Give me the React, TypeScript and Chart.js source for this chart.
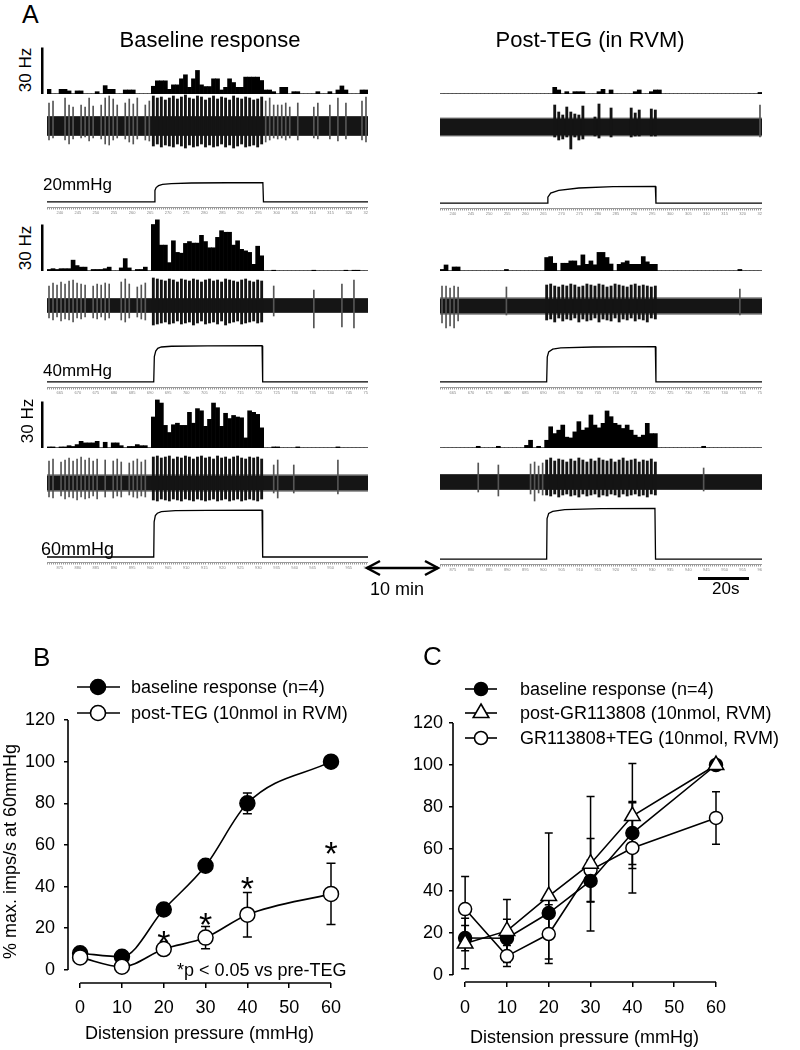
import React, { useEffect, useRef } from 'react';
import { Chart, registerables } from 'chart.js';

Chart.register(...registerables);
const FONT = "'Liberation Sans', Arial, Helvetica, sans-serif";
Chart.defaults.font.family = FONT;
Chart.defaults.color = '#000';

// ================= Panel A data (80 time bins per sweep) =================
const BIN_COUNT = 80;
const BINS = Array.from({ length: BIN_COUNT }, (_, i) => String(i));
const HZ_SCALE = 30;
// bins covered by the balloon distension (first, last)
const STIM_BINS = [26, 53];

// rate histograms (Hz)
const HIST_BASE_20 = [
  3, 0, 0, 3, 3, 2, 0, 2, 2, 0,
  0, 0, 1.5, 0, 5.4, 3, 3, 0, 0, 2.6,
  2.6, 2.6, 0, 0, 0, 0, 5, 8.5, 8.5, 8.5,
  3, 5.9, 5.9, 9.8, 12.4, 4.3, 9.8, 15.2, 5.9, 4.8,
  4.8, 9.8, 9.8, 2.6, 4.3, 9.8, 7.4, 4.3, 4.3, 10.9,
  10.9, 10.9, 10.9, 8.7, 2.6, 2.6, 1.5, 0, 4.3, 4.3,
  0, 1.5, 1.5, 0, 0, 0, 0, 1.5, 0, 0,
  1.5, 0, 2.6, 5.2, 2.6, 0, 0, 0, 2.6, 2.6,
];
const HIST_BASE_40 = [
  1, 1.5, 1, 1.5, 1.5, 1.5, 7, 3.5, 2.5, 2.5,
  0, 1, 1, 1, 1.5, 2.5, 0, 0, 2, 8,
  2, 0, 1, 1, 2.5, 0, 30, 33, 16.7, 16.7,
  5.4, 19.5, 12, 11.5, 17.8, 19, 18, 18, 23, 19,
  15, 15, 21.7, 26, 25, 25, 16.7, 19.5, 14, 13,
  12, 4.3, 16, 9.8, 0, 0, 0.5, 0, 0, 0,
  0, 0, 0, 0, 0, 0, 0.5, 0, 0, 0,
  0, 0, 0, 0, 0.5, 0, 0.5, 0.5, 0, 0,
];
const HIST_BASE_60 = [
  0.7, 0.7, 0, 0.7, 0.7, 1.5, 1, 2.2, 4.3, 3.3,
  3.3, 3.3, 4.3, 0, 3.7, 0, 3.3, 3.3, 1.5, 0,
  1, 1, 2.2, 1.5, 1.5, 0, 20, 31, 29, 14.6,
  10, 15, 16, 14.6, 14.6, 23, 16, 25.4, 24, 14,
  18.5, 29, 26, 14, 22.4, 19, 21, 20, 19.5, 6.5,
  24, 23, 21.7, 13, 0, 0, 0.7, 0.7, 0, 0,
  0, 0, 0.7, 0, 0, 0, 0, 0, 0, 0,
  0, 0, 0.7, 0, 0, 0, 0, 0, 0, 0,
];
const HIST_TEG_20 = [
  0, 0, 0, 0, 0, 0, 0, 0, 0, 0,
  0, 0, 0, 0, 0, 0, 0, 0, 0, 0,
  0, 0, 0, 0, 0, 0, 0, 0, 4.3, 2.6,
  0, 1.5, 0, 1.5, 1.5, 1.5, 0, 0, 0, 1.5,
  3, 0, 2.6, 0, 0, 0, 0, 0, 1.5, 2.6,
  0, 0, 1.5, 2.6, 2.6, 0, 0, 0, 0, 0,
  0, 0, 0, 0, 0, 0, 0, 0, 0, 0,
  0, 0, 0, 0, 0, 0, 0, 0, 0, 1,
];
const HIST_TEG_40 = [
  1, 3.9, 0, 2.6, 2.6, 0, 0, 0, 0, 0,
  0, 0, 0, 0, 0, 0, 1, 0, 0, 0,
  0, 0, 0, 0, 0, 0, 8.7, 9.3, 5, 0,
  5, 5, 6.5, 6.5, 3.5, 10.4, 4.3, 6.5, 4, 12,
  12, 8.7, 4.5, 0, 4.3, 5.4, 6.5, 4.3, 4.3, 4.3,
  9.3, 5.9, 4.3, 4.3, 0, 0, 0, 0, 0, 0,
  0, 0, 0, 0, 0, 0, 0, 0, 0, 0,
  0, 0, 0, 0, 1, 0, 0, 0, 0, 0,
];
const HIST_TEG_60 = [
  0, 0, 0, 0, 0, 0, 0, 0, 0, 1.1,
  0, 0, 0, 0, 1.1, 0, 0, 0, 0, 0,
  0, 1.7, 5, 0, 1.1, 0, 5, 13.7, 9.3, 11.5,
  14.8, 7, 6.5, 10.4, 17, 11.5, 13, 21.3, 14.8, 13,
  15.9, 23.9, 20.2, 15.9, 14.8, 12.6, 14.8, 11.5, 8.3, 7,
  8.3, 15.9, 9.3, 9.3, 0, 0, 0, 0, 0, 0,
  0, 0, 0, 0, 0, 1.1, 0, 0, 0, 0,
  0, 0, 0, 0, 0, 0, 0, 0, 0, 0,
];

// raw extracellular traces: largest upward / downward spike per bin (arb. units), noise band
const SPK_UP_BASE_20 = [
  23, 25, 0, 0, 28, 21, 19, 0, 21, 19,
  28, 20, 0, 21, 28, 30, 27, 21, 0, 23,
  27, 22, 28, 0, 21, 25, 30, 28, 29, 26,
  28, 30, 27, 29, 31, 28, 27, 30, 29, 26,
  28, 30, 27, 29, 28, 26, 30, 28, 27, 29,
  28, 26, 27, 29, 25, 28, 21, 21, 21, 23,
  19, 0, 23, 0, 0, 0, 19, 23, 0, 0,
  21, 0, 28, 0, 23, 0, 0, 0, 25, 29,
];
const SPK_DN_BASE_20 = [
  14, 12, 0, 0, 14, 18, 13, 0, 12, 11,
  15, 12, 0, 13, 18, 19, 14, 12, 0, 13,
  16, 18, 13, 0, 14, 15, 20, 18, 21, 19,
  20, 21, 18, 20, 22, 19, 21, 20, 18, 21,
  19, 21, 20, 18, 21, 19, 22, 20, 18, 21,
  20, 19, 21, 18, 16, 14, 12, 13, 12, 14,
  12, 0, 14, 0, 0, 0, 12, 13, 0, 0,
  13, 0, 15, 0, 13, 0, 0, 0, 14, 16,
];
const SPK_UP_BASE_40 = [
  20, 23, 21, 24, 22, 25, 26, 23, 22, 21,
  0, 20, 22, 21, 23, 22, 0, 0, 24, 27,
  22, 0, 19, 21, 23, 0, 28, 27, 26, 25,
  27, 26, 24, 27, 26, 25, 27, 26, 24, 26,
  27, 25, 26, 24, 27, 26, 25, 24, 26, 27,
  25, 24, 26, 25, 0, 0, 20, 0, 0, 0,
  0, 0, 0, 0, 0, 0, 16, 0, 0, 0,
  0, 0, 0, 22, 0, 0, 26, 0, 0, 0,
];
const SPK_DN_BASE_40 = [
  12, 14, 11, 15, 13, 14, 16, 12, 13, 11,
  0, 12, 13, 11, 14, 12, 0, 0, 14, 16,
  12, 0, 11, 13, 14, 0, 19, 18, 17, 16,
  18, 17, 15, 18, 17, 16, 19, 17, 15, 18,
  17, 16, 18, 15, 19, 17, 16, 15, 18, 17,
  16, 15, 17, 16, 0, 0, 10, 0, 0, 0,
  0, 0, 0, 0, 0, 0, 22, 0, 0, 0,
  0, 0, 0, 21, 0, 0, 22, 0, 0, 0,
];
const SPK_UP_BASE_60 = [
  22, 24, 0, 21, 23, 25, 22, 24, 26, 23,
  25, 22, 24, 0, 23, 0, 22, 24, 21, 0,
  20, 22, 24, 21, 23, 0, 26, 27, 25, 26,
  27, 24, 26, 25, 27, 26, 24, 26, 27, 25,
  26, 24, 27, 25, 26, 24, 26, 27, 25, 24,
  26, 25, 26, 24, 0, 0, 18, 23, 0, 0,
  0, 18, 0, 0, 0, 0, 0, 0, 0, 0,
  0, 0, 23, 0, 0, 0, 0, 0, 0, 0,
];
const SPK_DN_BASE_60 = [
  14, 15, 0, 13, 16, 14, 15, 17, 14, 16,
  15, 13, 16, 0, 14, 0, 15, 13, 14, 0,
  12, 14, 15, 13, 14, 0, 17, 18, 16, 17,
  18, 16, 17, 18, 16, 17, 18, 16, 17, 18,
  17, 16, 18, 17, 16, 18, 17, 16, 18, 17,
  16, 17, 18, 16, 0, 0, 10, 15, 0, 0,
  0, 10, 0, 0, 0, 0, 0, 0, 0, 0,
  0, 0, 11, 0, 0, 0, 0, 0, 0, 0,
];
const SPK_UP_TEG_20 = [
  0, 0, 0, 0, 0, 0, 0, 0, 0, 0,
  0, 0, 0, 0, 0, 0, 0, 0, 0, 0,
  0, 0, 0, 0, 0, 0, 0, 0, 22, 15,
  12, 20, 15, 13, 12, 21, 0, 0, 10, 23,
  0, 0, 19, 0, 0, 0, 0, 19, 14, 17,
  0, 0, 18, 17, 0, 0, 0, 0, 0, 0,
  0, 0, 0, 0, 0, 0, 0, 0, 0, 0,
  0, 0, 0, 0, 0, 0, 0, 0, 0, 22,
];
const SPK_DN_TEG_20 = [
  0, 0, 0, 0, 0, 0, 0, 0, 0, 0,
  0, 0, 0, 0, 0, 0, 0, 0, 0, 0,
  0, 0, 0, 0, 0, 0, 0, 0, 10, 13,
  12, 10, 22, 10, 13, 12, 0, 0, 9, 11,
  0, 0, 10, 0, 0, 0, 0, 10, 9, 9,
  0, 0, 9, 9, 0, 0, 0, 0, 0, 0,
  0, 0, 0, 0, 0, 0, 0, 0, 0, 0,
  0, 0, 0, 0, 0, 0, 0, 0, 0, 10,
];
const SPK_UP_TEG_40 = [
  20, 20, 18, 20, 19, 0, 0, 0, 0, 0,
  0, 0, 0, 0, 0, 0, 19, 0, 0, 0,
  0, 0, 0, 0, 0, 0, 21, 22, 20, 19,
  21, 20, 22, 21, 19, 20, 22, 21, 20, 22,
  21, 19, 20, 22, 21, 20, 19, 21, 22, 20,
  21, 20, 19, 20, 0, 0, 0, 0, 0, 0,
  0, 0, 0, 0, 0, 0, 0, 0, 0, 0,
  0, 0, 0, 0, 17, 0, 0, 0, 0, 0,
];
const SPK_DN_TEG_40 = [
  17, 22, 20, 22, 15, 0, 0, 0, 0, 0,
  0, 0, 0, 0, 0, 0, 9, 0, 0, 0,
  0, 0, 0, 0, 0, 0, 14, 13, 16, 12,
  15, 13, 14, 12, 16, 13, 15, 14, 12, 16,
  13, 14, 15, 12, 16, 13, 14, 12, 15, 13,
  14, 16, 12, 13, 0, 0, 0, 0, 0, 0,
  0, 0, 0, 0, 0, 0, 0, 0, 0, 0,
  0, 0, 0, 0, 9, 0, 0, 0, 0, 0,
];
const SPK_UP_TEG_60 = [
  0, 0, 0, 0, 0, 0, 0, 0, 0, 19,
  0, 0, 0, 0, 17, 0, 0, 0, 0, 0,
  0, 0, 18, 20, 16, 19, 22, 24, 21, 23,
  22, 20, 23, 21, 24, 22, 20, 23, 21, 24,
  22, 21, 23, 20, 22, 24, 21, 22, 23, 20,
  22, 21, 23, 20, 0, 0, 0, 0, 0, 0,
  0, 0, 0, 0, 0, 14, 0, 0, 0, 0,
  0, 0, 0, 0, 0, 0, 0, 0, 0, 0,
];
const SPK_DN_TEG_60 = [
  0, 0, 0, 0, 0, 0, 0, 0, 0, 10,
  0, 0, 0, 0, 14, 0, 0, 0, 0, 0,
  0, 0, 12, 19, 11, 13, 13, 14, 12, 15,
  13, 12, 14, 13, 15, 12, 14, 13, 12, 15,
  13, 14, 12, 13, 15, 12, 14, 13, 12, 14,
  13, 15, 12, 13, 0, 0, 0, 0, 0, 0,
  0, 0, 0, 0, 0, 9, 0, 0, 0, 0,
  0, 0, 0, 0, 0, 0, 0, 0, 0, 0,
];
// noise band [upper, lower]
const CORE_BASE_20 = [9, 9];
const CORE_BASE_40 = [7, 6];
const CORE_BASE_60 = [7.5, 7.5];
const CORE_TEG_20 = [8.3, 8.3];
const CORE_TEG_40 = [7.5, 7.5];
const CORE_TEG_60 = [7, 7];

// balloon pressure traces [bin, mmHg]
type Pt = [number, number];
const PRESS_BASE_20: Pt[] = [[0, 0], [26.75, 0], [26.9, 12], [27.2, 15], [27.8, 17], [28.8, 18.3], [31, 19.2], [36, 19.8], [45, 20.1], [53.8, 20.2], [53.95, 0], [80, 0]];
const PRESS_BASE_40: Pt[] = [[0, 0], [26.6, 0], [26.75, 28], [27.1, 34], [27.6, 37], [28.5, 38.5], [31, 39.3], [40, 39.8], [53.6, 40], [53.75, 0], [80, 0]];
const PRESS_BASE_60: Pt[] = [[0, 0], [26.6, 0], [26.7, 45], [27, 53], [27.5, 56], [28.5, 58], [32, 59.3], [40, 59.8], [53.6, 60], [53.75, 0], [80, 0]];
const PRESS_TEG_20: Pt[] = [[0, 0], [26.65, 0], [26.8, 7], [27.5, 12], [29.5, 15.3], [34.5, 18], [43, 19.6], [53.5, 20], [53.65, 0], [80, 0]];
const PRESS_TEG_40: Pt[] = [[0, 0], [26.5, 0], [26.65, 28], [27, 34], [28, 37], [30, 38.5], [38, 39.5], [53.5, 40], [53.65, 0], [80, 0]];
const PRESS_TEG_60: Pt[] = [[0, 0], [26.5, 0], [26.6, 48], [27, 54], [28, 56.5], [31, 58.5], [40, 59.6], [53.4, 60], [53.55, 0], [80, 0]];

// time rulers (s)
const RULER_20 = ['240', '245', '250', '255', '260', '265', '270', '275', '280', '285', '290', '295', '300', '305', '310', '315', '320', '325'];
const RULER_40 = ['665', '670', '675', '680', '685', '690', '695', '700', '705', '710', '715', '720', '725', '730', '735', '740', '745', '750'];
const RULER_60 = ['875', '880', '885', '890', '895', '900', '905', '910', '915', '920', '925', '930', '935', '940', '945', '950', '955', '960'];

// ================= Panel B / C data =================
const PRESSURES = [0, 10, 20, 30, 40, 60];
const X_TICKS = [0, 10, 20, 30, 40, 50, 60];
const Y_TICKS = [0, 20, 40, 60, 80, 100, 120];

const B_BASELINE = [8, 6.3, 29, 50, 80, 100];
const B_BASELINE_ERR = [1, 1, 1, 1, 5, 0];
const B_TEG = [6, 1.5, 10, 15.5, 26.5, 36.5];
const B_TEG_ERR = [1, 1, 1.5, 5.3, 10.7, 14.7];
const B_STAR_X = [20, 30, 40, 60];
const B_STAR_Y = [17, 25.5, 43, 59.5];

const C_BASELINE = [17.6, 17.5, 29.5, 44.8, 67.6, 100];
const C_BASELINE_ERR = [6, 9, 8, 10, 15, 0];
const C_GR = [15, 21, 37.6, 53, 75.7, 100];
const C_GR_ERR = [12, 15, 30, 32, 25, 0];
const C_GR_TEG = [31.4, 9, 19.5, 50, 60.5, 74.8];
const C_GR_TEG_ERR = [15.5, 5, 14, 15, 21.5, 12.5];

// ================= plugins =================
const histBaseline = {
  id: 'histBaseline',
  beforeDatasetsDraw(chart: any) {
    const { ctx, chartArea: a, scales } = chart;
    const y0 = Math.round(scales.y.getPixelForValue(0)) - 0.5;
    ctx.save();
    ctx.strokeStyle = '#8a8a8a';
    ctx.lineWidth = 1;
    ctx.beginPath();
    ctx.moveTo(a.left, y0);
    ctx.lineTo(a.right, y0);
    ctx.stroke();
    ctx.restore();
  },
};
const hzScaleBar = {
  id: 'hzScaleBar',
  afterDraw(chart: any) {
    const { ctx, chartArea: a, scales } = chart;
    const top = scales.y.getPixelForValue(HZ_SCALE);
    const bot = scales.y.getPixelForValue(0);
    ctx.save();
    ctx.fillStyle = '#000';
    ctx.fillRect(a.left - 6, top, 2.5, bot - top);
    ctx.restore();
  },
};
const makeCoreBand = (core: number[]) => ({
  id: 'coreBand',
  beforeDatasetsDraw(chart: any) {
    const { ctx, chartArea: a, scales } = chart;
    const t = scales.y.getPixelForValue(core[0]);
    const b = scales.y.getPixelForValue(-core[1]);
    ctx.save();
    ctx.fillStyle = '#151515';
    ctx.fillRect(a.left, t, a.right - a.left, b - t);
    ctx.fillStyle = '#3a3a3a';
    ctx.fillRect(a.left, t - 1, a.right - a.left, 1);
    ctx.fillRect(a.left, b, a.right - a.left, 1);
    ctx.restore();
  },
});
const RULER_FIRST = 3.2;
const RULER_STEP = 4.5;
const makeRuler = (labels: string[]) => ({
  id: 'ruler',
  afterDraw(chart: any) {
    const { ctx, chartArea: a, scales } = chart;
    const x = scales.x;
    const y0 = a.bottom + 0.5;
    ctx.save();
    ctx.strokeStyle = '#9a9a9a';
    ctx.lineWidth = 1;
    ctx.beginPath();
    ctx.moveTo(a.left, y0);
    ctx.lineTo(a.right, y0);
    for (let t = 0; t <= BIN_COUNT; t += 0.5) {
      const px = Math.round(x.getPixelForValue(t)) + 0.5;
      ctx.moveTo(px, y0);
      ctx.lineTo(px, y0 + 2);
    }
    ctx.stroke();
    ctx.fillStyle = '#888';
    ctx.font = `4px ${FONT}`;
    ctx.textAlign = 'center';
    ctx.textBaseline = 'top';
    labels.forEach((l, j) => {
      ctx.fillText(l, x.getPixelForValue(RULER_FIRST + j * RULER_STEP), y0 + 3);
    });
    ctx.restore();
  },
});

const errorBars = (cap: number) => ({
  id: 'errorBars',
  beforeDatasetsDraw(chart: any) {
    const { ctx, scales } = chart;
    ctx.save();
    ctx.strokeStyle = '#000';
    ctx.lineWidth = 1.5;
    chart.data.datasets.forEach((ds: any) => {
      const err = ds.errors;
      if (!err) return;
      ds.data.forEach((p: any, i: number) => {
        const e = err[i];
        if (!e) return;
        const px = scales.x.getPixelForValue(p.x);
        const top = scales.y.getPixelForValue(p.y + e);
        const bot = scales.y.getPixelForValue(p.y - e);
        ctx.beginPath();
        ctx.moveTo(px, top);
        ctx.lineTo(px, bot);
        ctx.moveTo(px - cap, top);
        ctx.lineTo(px + cap, top);
        ctx.moveTo(px - cap, bot);
        ctx.lineTo(px + cap, bot);
        ctx.stroke();
      });
    });
    ctx.restore();
  },
});
const detachedAxes = {
  id: 'detachedAxes',
  afterDraw(chart: any) {
    const { ctx, chartArea: a, scales } = chart;
    ctx.save();
    ctx.strokeStyle = '#000';
    ctx.lineWidth = 1.6;
    ctx.beginPath();
    ctx.moveTo(a.left, scales.y.getPixelForValue(Y_TICKS[0]));
    ctx.lineTo(a.left, scales.y.getPixelForValue(Y_TICKS[Y_TICKS.length - 1]));
    ctx.moveTo(scales.x.getPixelForValue(X_TICKS[0]), a.bottom);
    ctx.lineTo(scales.x.getPixelForValue(X_TICKS[X_TICKS.length - 1]), a.bottom);
    ctx.stroke();
    ctx.restore();
  },
};
type LegendItem = { text: string; style: 'circle' | 'triangle'; fill: string; y: number };
function drawMarker(ctx: any, style: string, fill: string, x: number, y: number, r: number) {
  ctx.beginPath();
  if (style === 'triangle') {
    ctx.moveTo(x, y - r);
    ctx.lineTo(x + r * Math.sin(Math.PI * 2 / 3), y - r * Math.cos(Math.PI * 2 / 3));
    ctx.lineTo(x - r * Math.sin(Math.PI * 2 / 3), y - r * Math.cos(Math.PI * 2 / 3));
    ctx.closePath();
  } else {
    ctx.arc(x, y, r, 0, Math.PI * 2);
  }
  ctx.fillStyle = fill;
  ctx.fill();
  ctx.stroke();
}
const makeLegend = (items: LegendItem[], x1: number, x2: number, xm: number, xt: number, rc: number, rt: number, size: number) => ({
  id: 'customLegend',
  afterDraw(chart: any) {
    const { ctx } = chart;
    ctx.save();
    ctx.strokeStyle = '#000';
    ctx.lineWidth = 1.6;
    items.forEach((it) => {
      ctx.beginPath();
      ctx.moveTo(x1, it.y);
      ctx.lineTo(x2, it.y);
      ctx.stroke();
      drawMarker(ctx, it.style, it.fill, xm, it.y, it.style === 'triangle' ? rt : rc);
      ctx.fillStyle = '#000';
      ctx.font = `${size}px ${FONT}`;
      ctx.textAlign = 'left';
      ctx.textBaseline = 'middle';
      ctx.fillText(it.text, xt, it.y + 1);
    });
    ctx.restore();
  },
});
const starsPlugin = {
  id: 'stars',
  afterDatasetsDraw(chart: any) {
    const { ctx, scales } = chart;
    ctx.save();
    ctx.fillStyle = '#000';
    ctx.font = `34px ${FONT}`;
    ctx.textAlign = 'center';
    ctx.textBaseline = 'alphabetic';
    B_STAR_X.forEach((x, i) => {
      ctx.fillText('*', scales.x.getPixelForValue(x), scales.y.getPixelForValue(B_STAR_Y[i]) + 0.57 * 34);
    });
    ctx.restore();
  },
};

// ================= config builders =================
const baseOpts = { animation: false, responsive: false, maintainAspectRatio: false, events: [] as any[] };
const noLegend = { legend: { display: false }, tooltip: { enabled: false } };

function histConfig(values: number[], maxHz: number, padLeft: number, scaleBar: boolean) {
  return {
    type: 'bar',
    data: { labels: BINS, datasets: [{ data: values, backgroundColor: '#000', borderWidth: 0, barPercentage: 1, categoryPercentage: 1 }] },
    options: {
      ...baseOpts,
      layout: { padding: { left: padLeft, right: 0, top: 0, bottom: 0 } },
      scales: { x: { display: false }, y: { display: false, min: 0, max: maxHz } },
      plugins: noLegend,
    },
    plugins: scaleBar ? [histBaseline, hzScaleBar] : [histBaseline],
  };
}
function traceConfig(up: number[], dn: number[], core: number[]) {
  const inStim = (i: number) => i >= STIM_BINS[0] && i <= STIM_BINS[1];
  const burst = up.map((u, i) => (u > 0 && inStim(i) ? [-dn[i], u] : null));
  const sparse = up.map((u, i) => (u > 0 && !inStim(i) ? [-dn[i], u] : null));
  return {
    type: 'bar',
    data: {
      labels: BINS,
      datasets: [
        { data: burst, backgroundColor: '#141414', borderWidth: 0, barThickness: 2.2, grouped: false },
        { data: sparse, backgroundColor: '#555', borderWidth: 0, barThickness: 1, grouped: false },
      ],
    },
    options: {
      ...baseOpts,
      layout: { padding: 0 },
      scales: { x: { display: false }, y: { display: false, min: -25, max: 32 } },
      plugins: noLegend,
    },
    plugins: [makeCoreBand(core)],
  };
}
function pressureConfig(points: Pt[], yMin: number, yMax: number, ruler: string[]) {
  return {
    type: 'line',
    data: { datasets: [{ data: points.map(([x, y]) => ({ x, y })), borderColor: '#000', borderWidth: 1.3, pointRadius: 0, tension: 0 }] },
    options: {
      ...baseOpts,
      layout: { padding: { left: 0, right: 0, top: 0, bottom: 8 } },
      scales: { x: { type: 'linear', display: false, min: 0, max: BIN_COUNT }, y: { display: false, min: yMin, max: yMax } },
      plugins: noLegend,
    },
    plugins: [makeRuler(ruler)],
  };
}

function xyConfig(opts: any) {
  const { datasets, yMin, xAxisH, yAxisW, padTop, padRight, yTitle, tickPadY, tickPadX, titlePadB, plugins } = opts;
  return {
    type: 'line',
    data: { datasets },
    options: {
      ...baseOpts,
      layout: { padding: { top: padTop, right: padRight, left: 0, bottom: 0 } },
      scales: {
        x: {
          type: 'linear', min: -2.9, max: 60,
          afterBuildTicks: (s: any) => { s.ticks = X_TICKS.map((v) => ({ value: v })); },
          afterFit: (s: any) => { s.height = xAxisH; },
          grid: { display: true, drawOnChartArea: false, tickLength: 5, color: '#000', lineWidth: 1.5 },
          border: { display: false },
          ticks: { font: { size: 18 }, color: '#000', padding: tickPadX, maxRotation: 0, autoSkip: false },
          title: { display: true, text: 'Distension pressure (mmHg)', font: { size: 18 }, color: '#000', padding: { top: 0, bottom: titlePadB } },
        },
        y: {
          type: 'linear', min: yMin, max: 120,
          afterBuildTicks: (s: any) => { s.ticks = Y_TICKS.map((v) => ({ value: v })); },
          afterFit: (s: any) => { s.width = yAxisW; },
          grid: { display: true, drawOnChartArea: false, tickLength: 4, color: '#000', lineWidth: 1.5 },
          border: { display: false },
          ticks: { font: { size: 18 }, color: '#000', padding: tickPadY, autoSkip: false },
          title: yTitle
            ? { display: true, text: yTitle, font: { size: 18 }, color: '#000', padding: { top: 0, bottom: 0 } }
            : { display: false },
        },
      },
      plugins: noLegend,
    },
    plugins: [errorBars(opts.cap), detachedAxes, ...plugins],
  };
}

// ================= components =================
function ChartCanvas({ left, top, width, height, make }: { left: number; top: number; width: number; height: number; make: () => any }) {
  const ref = useRef<HTMLCanvasElement>(null);
  useEffect(() => {
    const chart = new Chart(ref.current as HTMLCanvasElement, make());
    return () => chart.destroy();
  }, []);
  return <canvas ref={ref} width={width} height={height} style={{ position: 'absolute', left, top, width, height }} />;
}

function Label({ children, left, top, size, center, style }: any) {
  return (
    <div
      style={{
        position: 'absolute', left, top, fontSize: size, lineHeight: 1, fontFamily: FONT, color: '#000', whiteSpace: 'nowrap',
        transform: center ? 'translateX(-50%)' : undefined, ...style,
      }}
    >
      {children}
    </div>
  );
}
function VLabel({ children, cx, cy, size }: any) {
  return (
    <div
      style={{
        position: 'absolute', left: cx, top: cy, fontSize: size, lineHeight: 1, fontFamily: FONT, color: '#000', whiteSpace: 'nowrap',
        transform: 'translate(-50%, -50%) rotate(-90deg)',
      }}
    >
      {children}
    </div>
  );
}

const HIST_H = 56;
const HZ_PX = 1.55;
const COL_L = { x: 47, w: 321 };
const COL_R = { x: 440, w: 322 };

const SWEEPS = [
  { col: COL_L, bar: true, hist: HIST_BASE_20, up: SPK_UP_BASE_20, dn: SPK_DN_BASE_20, core: CORE_BASE_20, press: PRESS_BASE_20, pMax: 24, histBase: 94, traceC: 126, pressBase: 202, pxPer: 0.95, ruler: RULER_20 },
  { col: COL_L, bar: true, hist: HIST_BASE_40, up: SPK_UP_BASE_40, dn: SPK_DN_BASE_40, core: CORE_BASE_40, press: PRESS_BASE_40, pMax: 44, histBase: 271, traceC: 306, pressBase: 382, pxPer: 0.9, ruler: RULER_40 },
  { col: COL_L, bar: true, hist: HIST_BASE_60, up: SPK_UP_BASE_60, dn: SPK_DN_BASE_60, core: CORE_BASE_60, press: PRESS_BASE_60, pMax: 64, histBase: 448, traceC: 482.5, pressBase: 557, pxPer: 0.783, ruler: RULER_60 },
  { col: COL_R, bar: false, hist: HIST_TEG_20, up: SPK_UP_TEG_20, dn: SPK_DN_TEG_20, core: CORE_TEG_20, press: PRESS_TEG_20, pMax: 24, histBase: 94, traceC: 126.7, pressBase: 203, pxPer: 0.85, ruler: RULER_20 },
  { col: COL_R, bar: false, hist: HIST_TEG_40, up: SPK_UP_TEG_40, dn: SPK_DN_TEG_40, core: CORE_TEG_40, press: PRESS_TEG_40, pMax: 44, histBase: 271, traceC: 305.8, pressBase: 381.7, pxPer: 0.875, ruler: RULER_40 },
  { col: COL_R, bar: false, hist: HIST_TEG_60, up: SPK_UP_TEG_60, dn: SPK_DN_TEG_60, core: CORE_TEG_60, press: PRESS_TEG_60, pMax: 64, histBase: 448, traceC: 482.3, pressBase: 559, pxPer: 0.85, ruler: RULER_60 },
];

export default function App() {
  const charts: any[] = [];
  SWEEPS.forEach((s, i) => {
    const padL = s.bar ? 9 : 0;
    charts.push(
      <ChartCanvas key={`h${i}`} left={s.col.x - padL} top={s.histBase - HIST_H} width={s.col.w + padL} height={HIST_H}
        make={() => histConfig(s.hist, HIST_H / HZ_PX, padL, s.bar)} />,
    );
    charts.push(
      <ChartCanvas key={`t${i}`} left={s.col.x} top={Math.round(s.traceC - 32)} width={s.col.w} height={57}
        make={() => traceConfig(s.up, s.dn, s.core)} />,
    );
    const areaH = s.pMax * s.pxPer + 5;
    charts.push(
      <ChartCanvas key={`p${i}`} left={s.col.x} top={Math.round(s.pressBase - s.pMax * s.pxPer)} width={s.col.w} height={Math.round(areaH + 8)}
        make={() => pressureConfig(s.press, -5 / s.pxPer, s.pMax, s.ruler)} />,
    );
  });

  const bDatasets = [
    { label: 'post-TEG (10nmol in RVM)', data: PRESSURES.map((x, i) => ({ x, y: B_TEG[i] })), errors: B_TEG_ERR, order: 0,
      borderColor: '#000', backgroundColor: '#fff', pointBackgroundColor: '#fff', pointBorderColor: '#000', pointRadius: 7.5, pointBorderWidth: 1.5,
      borderWidth: 1.6, cubicInterpolationMode: 'monotone', clip: false },
    { label: 'baseline response (n=4)', data: PRESSURES.map((x, i) => ({ x, y: B_BASELINE[i] })), errors: B_BASELINE_ERR, order: 1,
      borderColor: '#000', backgroundColor: '#000', pointBackgroundColor: '#000', pointBorderColor: '#000', pointRadius: 7.5, pointBorderWidth: 1.5,
      borderWidth: 1.6, cubicInterpolationMode: 'monotone', clip: false },
  ];
  const cDatasets = [
    { label: 'post-GR113808 (10nmol, RVM)', data: PRESSURES.map((x, i) => ({ x, y: C_GR[i] })), errors: C_GR_ERR, order: 0,
      borderColor: '#000', pointStyle: 'triangle', pointBackgroundColor: '#fff', pointBorderColor: '#000', pointRadius: 9, pointBorderWidth: 1.5,
      borderWidth: 1.6, tension: 0, clip: false },
    { label: 'baseline response (n=4)', data: PRESSURES.map((x, i) => ({ x, y: C_BASELINE[i] })), errors: C_BASELINE_ERR, order: 1,
      borderColor: '#000', pointBackgroundColor: '#000', pointBorderColor: '#000', pointRadius: 6.5, pointBorderWidth: 1.5,
      borderWidth: 1.6, tension: 0, clip: false },
    { label: 'GR113808+TEG (10nmol, RVM)', data: PRESSURES.map((x, i) => ({ x, y: C_GR_TEG[i] })), errors: C_GR_TEG_ERR, order: 2,
      borderColor: '#000', pointBackgroundColor: '#fff', pointBorderColor: '#000', pointRadius: 6.5, pointBorderWidth: 1.5,
      borderWidth: 1.6, tension: 0, clip: false },
  ];

  const bLegend = makeLegend(
    [
      { text: 'baseline response (n=4)', style: 'circle', fill: '#000', y: 57 },
      { text: 'post-TEG (10nmol in RVM)', style: 'circle', fill: '#fff', y: 83 },
    ],
    77, 120, 98, 131, 7.5, 9, 18,
  );
  const cLegend = makeLegend(
    [
      { text: 'baseline response (n=4)', style: 'circle', fill: '#000', y: 59 },
      { text: 'post-GR113808 (10nmol, RVM)', style: 'triangle', fill: '#fff', y: 83 },
      { text: 'GR113808+TEG (10nmol, RVM)', style: 'circle', fill: '#fff', y: 108 },
    ],
    65, 97, 81, 120, 6.5, 9, 18,
  );

  return (
    <div style={{ position: 'absolute', left: 0, top: 0, width: 800, height: 1050, background: '#fff', overflow: 'hidden' }}>
      {charts}
      <ChartCanvas left={0} top={630} width={400} height={420}
        make={() => xyConfig({
          datasets: bDatasets, yMin: -6.3, xAxisH: 67, yAxisW: 68, padTop: 90, padRight: 69, yTitle: '% max. imps/s at 60mmHg',
          tickPadY: 9, tickPadX: 9, titlePadB: 5, cap: 4.5, plugins: [bLegend, starsPlugin],
        })} />
      <ChartCanvas left={400} top={630} width={400} height={420}
        make={() => xyConfig({
          datasets: cDatasets, yMin: -3.33, xAxisH: 68, yAxisW: 53, padTop: 93, padRight: 84, yTitle: null,
          tickPadY: 6, tickPadX: 10, titlePadB: 1, cap: 4, plugins: [cLegend],
        })} />

      <Label left={22} top={2} size={25}>A</Label>
      <Label left={210} top={29} size={22} center>Baseline response</Label>
      <Label left={590} top={29} size={22} center>Post-TEG (in RVM)</Label>
      <VLabel cx={25} cy={70} size={17}>30 Hz</VLabel>
      <VLabel cx={25} cy={248} size={17}>30 Hz</VLabel>
      <VLabel cx={27} cy={421} size={17}>30 Hz</VLabel>
      <Label left={43} top={176} size={17}>20mmHg</Label>
      <Label left={43} top={362} size={17}>40mmHg</Label>
      <Label left={41} top={540} size={18}>60mmHg</Label>
      <svg style={{ position: 'absolute', left: 360, top: 557 }} width={86} height={22}>
        <line x1={7} y1={11} x2={78} y2={11} stroke="#000" strokeWidth={2.5} />
        <polyline points="20,4 7,11 20,18" fill="none" stroke="#000" strokeWidth={2.5} />
        <polyline points="65,4 78,11 65,18" fill="none" stroke="#000" strokeWidth={2.5} />
      </svg>
      <Label left={370} top={580} size={18}>10 min</Label>
      <div style={{ position: 'absolute', left: 698, top: 577, width: 51, height: 2.5, background: '#000' }} />
      <Label left={712} top={580} size={17}>20s</Label>

      <Label left={33} top={644} size={26}>B</Label>
      <Label left={423} top={643} size={26}>C</Label>
      <Label left={177} top={961} size={18}>*p &lt; 0.05 vs pre-TEG</Label>
    </div>
  );
}
